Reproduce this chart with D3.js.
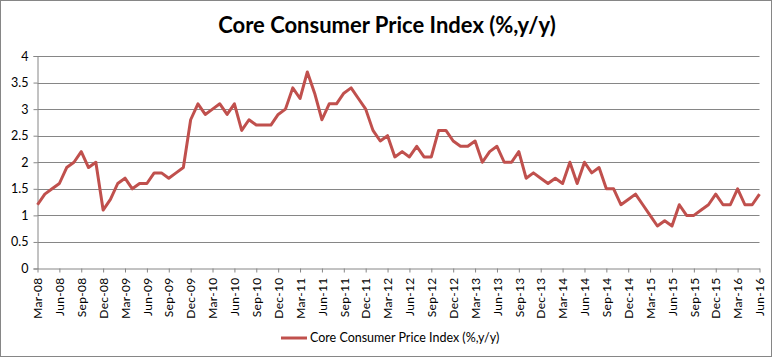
<!DOCTYPE html>
<html><head><meta charset="utf-8">
<script src="https://cdn.jsdelivr.net/npm/d3@7"></script>
<style>body{margin:0;background:#fff}</style>
</head><body>
<svg id="c" width="775" height="358"></svg>
<script>
const title = "Core Consumer Price Index (%,y/y)";
const seriesName = "Core Consumer Price Index (%,y/y)";
const startYear = 2008, startMonth = 2; // March 2008
const values = [
 1.2,1.4,1.5,1.6,1.9,2.0,2.2,1.9,2.0,1.1,
 1.3,1.6,1.7,1.5,1.6,1.6,1.8,1.8,1.7,1.8,
 1.9,2.8,3.1,2.9,3.0,3.1,2.9,3.1,2.6,2.8,
 2.7,2.7,2.7,2.9,3.0,3.4,3.2,3.7,3.3,2.8,
 3.1,3.1,3.3,3.4,3.2,3.0,2.6,2.4,2.5,2.1,
 2.2,2.1,2.3,2.1,2.1,2.6,2.6,2.4,2.3,2.3,
 2.4,2.0,2.2,2.3,2.0,2.0,2.2,1.7,1.8,1.7,
 1.6,1.7,1.6,2.0,1.6,2.0,1.8,1.9,1.5,1.5,
 1.2,1.3,1.4,1.2,1.0,0.8,0.9,0.8,1.2,1.0,
 1.0,1.1,1.2,1.4,1.2,1.2,1.5,1.2,1.2,1.4
];
const yTicks = [0,0.5,1,1.5,2,2.5,3,3.5,4];
const monthNames = ["Jan","Feb","Mar","Apr","May","Jun","Jul","Aug","Sep","Oct","Nov","Dec"];
const labels = values.map((v,i)=>{
  const m = startMonth + i;
  const y = startYear + Math.floor(m/12);
  return monthNames[m%12] + "-" + String(y%100).padStart(2,"0");
});
const data = values.map((v,i)=>({label:labels[i], v}));

const svg = d3.select("#c");
const font = "Lato, 'Open Sans', sans-serif";
// outer border
svg.append("rect").attr("x",0.5).attr("y",0.5).attr("width",771).attr("height",356)
  .attr("fill","#fff").attr("stroke","#868686").attr("stroke-width",1);

const L = 37.5, R = 759.5, T = 56, B = 268.5;
const x = d3.scalePoint().domain(labels).range([L,R]);
const y = d3.scaleLinear().domain([0,4]).range([B,T]);

// gridlines
svg.append("g").selectAll("line").data(yTicks.filter(t=>t>0)).join("line")
  .attr("x1",L).attr("x2",R).attr("y1",d=>Math.round(y(d))+0.5).attr("y2",d=>Math.round(y(d))+0.5)
  .attr("stroke","#868686").attr("stroke-width",1);

// y axis
const yAxis = svg.append("g").attr("transform",`translate(${L},0)`)
  .call(d3.axisLeft(y).tickValues(yTicks).tickSize(4).tickPadding(5).tickFormat(d3.format("")));
yAxis.select(".domain").attr("stroke","#868686");
yAxis.selectAll(".tick line").attr("stroke","#868686");
yAxis.selectAll("text").attr("font-family",font).attr("font-size",12.5).attr("fill","#000");

// x axis
const xAxis = svg.append("g").attr("transform",`translate(0,${B})`)
  .call(d3.axisBottom(x).tickValues(labels.filter((d,i)=>i%3===0)).tickSize(4).tickSizeOuter(0));
xAxis.select(".domain").attr("stroke","#868686");
xAxis.selectAll(".tick line").attr("stroke","#868686");
xAxis.selectAll("text").attr("font-family",font).attr("font-size",12).attr("fill","#000")
  .attr("letter-spacing","0.3px")
  .attr("transform","rotate(-90)").attr("text-anchor","end").attr("x",-9).attr("y",0).attr("dy","0.35em");

// line
svg.append("path").datum(data)
  .attr("fill","none").attr("stroke","#C0504D").attr("stroke-width",3).attr("stroke-linejoin","round")
  .attr("d", d3.line().x(d=>x(d.label)).y(d=>y(d.v)));

// title
svg.append("text").attr("x",387).attr("y",33).attr("text-anchor","middle")
  .attr("font-family",font).attr("font-weight","bold").attr("font-size",22).attr("fill","#000").text(title);

// legend
svg.append("line").attr("x1",281).attr("x2",307).attr("y1",338).attr("y2",338)
  .attr("stroke","#C0504D").attr("stroke-width",3);
svg.append("text").attr("x",310).attr("y",342).attr("font-family",font).attr("font-size",12.5).attr("fill","#000").text(seriesName);
</script>
</body></html>
